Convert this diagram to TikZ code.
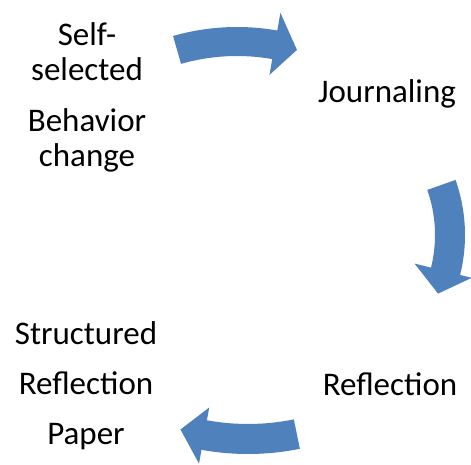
\documentclass[tikz,border=0pt]{standalone}
\usepackage{fontspec}
\setmainfont{Carlito}
\definecolor{cycleblue}{RGB}{79,129,189}
\tikzstyle{stage}=[inner sep=0,anchor=base,align=center,font=\fontsize{33}{35}\selectfont]
\tikzstyle{arrowfill}=[fill=cycleblue,draw=none]
% #1,#2 centre, #3 inner r, #4 outer r, #5 tail angle, #6 neck angle, #7 tip angle, #8/#9 head inner/outer r
\newcommand{\bentarrow}[9]{%
  \fill[arrowfill,shift={(#1,#2)}] (#5:#4) arc[start angle=#5,end angle=#6,radius=#4]
    -- (#6:#9) -- (#7:{(#3+#4)/2}) -- (#6:#8) -- (#6:#3)
    arc[start angle=#6,end angle=#5,radius=#3] -- cycle;}

\begin{document}
\begin{tikzpicture}[x=1pt,y=1pt]
  \useasboundingbox (0,0) rectangle (471,464);

  % STAGES (base = last line)
  \node[stage] (self) at (87,297) {Self-\\selected\\[16pt]Behavior\\change};
  \node[stage] (journal) at (387,361) {Journaling};
  \node[stage] (refl) at (390,69) {Reflection};
  \node[stage,font=\fontsize{33}{50}\selectfont] (paper) at (86,20) {Structured\\Reflection\\Paper};

  % ARROWS
  \bentarrow{237}{205}{203}{232}{106}{80}{74}{187}{250}
  \bentarrow{300}{229}{135}{165}{19.5}{-14}{-23}{118}{177}
  \bentarrow{248}{270}{230}{260}{-78.5}{-100.3}{-106}{217}{274}

\end{tikzpicture}
\end{document}
